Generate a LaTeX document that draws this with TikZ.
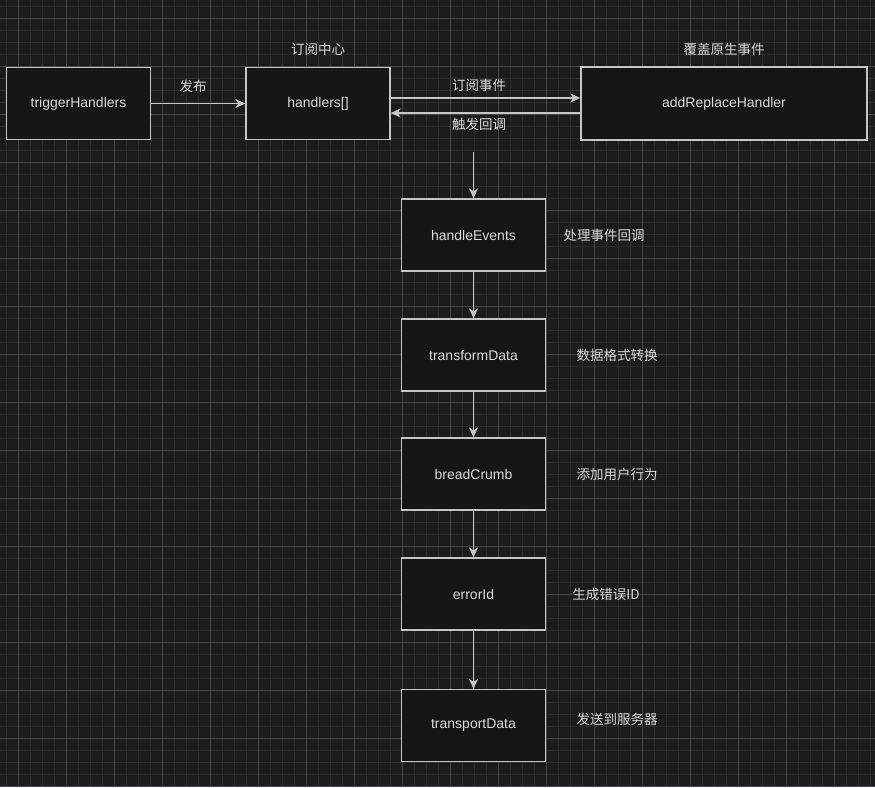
\documentclass[tikz,border=0pt]{standalone}
\usepackage{fontspec}
\setmainfont{Liberation Sans}
\newfontfamily\cjk{Noto Sans CJK SC}
\usetikzlibrary{arrows.meta}
\definecolor{sfondo}{HTML}{1C1C1E}
\definecolor{griglia}{HTML}{2C2C2F}
\definecolor{grigliaforte}{HTML}{46464A}
\definecolor{bordo}{HTML}{C6C6C6}
\definecolor{testo}{HTML}{DADADA}
\definecolor{riempi}{HTML}{161616}

\begin{document}
\begin{tikzpicture}[x=1pt,y=-1pt,
    box/.style={draw=bordo, fill=riempi, line width=1.3pt, text=testo,
      font=\fontsize{14}{16}\selectfont, minimum width=144pt, minimum height=72pt, inner sep=0pt},
    nota/.style={text=testo, font=\cjk\fontsize{13.5}{16}\selectfont},
    freccia/.style={draw=bordo, line width=1.2pt, -{Stealth[length=10pt,width=9pt,inset=3pt]}}]
        % Sfondo e griglia
        \fill[sfondo] (0,0) rectangle (875,787);
        \useasboundingbox (0,0) rectangle (875,787);
        \foreach \i in {6,18,...,875} {
            \draw[griglia, line width=0.7pt] (\i,0) -- (\i,787);
        }
        \foreach \j in {6,18,...,787} {
            \draw[griglia, line width=0.7pt] (0,\j) -- (875,\j);
        }
        \foreach \i in {18,66,...,875} {
            \draw[grigliaforte, line width=0.9pt] (\i,0) -- (\i,787);
        }
        \foreach \j in {18,66,...,787} {
            \draw[grigliaforte, line width=0.9pt] (0,\j) -- (875,\j);
        }

        % Riga superiore
        \node[box] (trigger) at (78.5,103.5) {triggerHandlers};
        \node[box] (handlers) at (318,103.5) {handlers[]};
        \node[box, minimum width=286pt, minimum height=73pt] (replace) at (724,103.5) {addReplaceHandler};
        \node[nota] (centro) at (318,49) {订阅中心};
        \node[nota] (nativo) at (724,49) {覆盖原生事件};

        \draw[freccia] (trigger.east) -- (handlers.west);
        \node[nota] (pubblica) at (193,86) {发布};
        \draw[freccia] ([yshift=5.5pt]handlers.east) -- ([yshift=5.5pt]replace.west);
        \draw[freccia] ([yshift=-9.5pt]replace.west) -- ([yshift=-9.5pt]handlers.east);
        \node[nota] (iscrivi) at (479,85) {订阅事件};
        \node[nota] (richiama) at (479,124) {触发回调};

        % Catena verticale
        \node[box] (eventi) at (473.5,235) {handleEvents};
        \node[box] (trasforma) at (473.5,355) {transformData};
        \node[box] (briciole) at (473.5,474) {breadCrumb};
        \node[box] (errore) at (473.5,594) {errorId};
        \node[box] (invia) at (473.5,725.5) {transportData};

        \coordinate (inizio) at (473.5,152);
        \draw[freccia] (inizio) -- (eventi.north);
        \draw[freccia] (eventi.south) -- (trasforma.north);
        \draw[freccia] (trasforma.south) -- (briciole.north);
        \draw[freccia] (briciole.south) -- (errore.north);
        \draw[freccia] (errore.south) -- (invia.north);

        \node[nota] (nota1) at (604,235) {处理事件回调};
        \node[nota] (nota2) at (617,355) {数据格式转换};
        \node[nota] (nota3) at (617,474) {添加用户行为};
        \node[nota] (nota4) at (606,594) {生成错误ID};
        \node[nota] (nota5) at (617,719) {发送到服务器};
\end{tikzpicture}
\end{document}
